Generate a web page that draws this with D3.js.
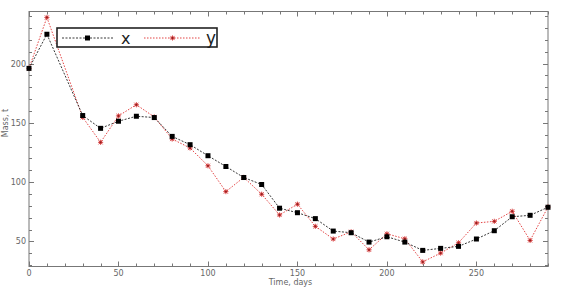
<!DOCTYPE html>
<html>
<head>
<meta charset="utf-8">
<script src="https://cdn.jsdelivr.net/npm/d3@7"></script>
<style>
  body { margin: 0; background: #fff; }
  svg { display: block; font-family: "DejaVu Sans", sans-serif; }
</style>
</head>
<body>
<script>
var days = [0, 10, 30, 40, 50, 60, 70, 80, 90, 100, 110, 120, 130, 140, 150, 160, 170, 180, 190, 200, 210, 220, 230, 240, 250, 260, 270, 280, 290];
var xSeries = [196, 224.8, 156.2, 145.4, 151.4, 155.6, 154.5, 138.6, 131.6, 122.3, 113.2, 103.9, 98, 78, 74.2, 69.2, 58.7, 57.3, 49.4, 53.9, 49.4, 42.4, 44.1, 45.8, 52, 59, 70.8, 72, 78.8];
var ySeries = [196, 239, 154.7, 133.6, 155.9, 165.3, 155, 136.4, 128.8, 113.8, 92, 104, 89.8, 72.3, 81.4, 62.7, 52, 58.1, 42.9, 56.4, 52.2, 32.7, 40.1, 48.8, 65.5, 66.9, 75.4, 50.8, 79];
var xTicks = [0, 50, 100, 150, 200, 250];
var yTicks = [50, 100, 150, 200];

var W = 567, H = 287;
var pLeft = 29, pRight = 548, pTop = 11.5, pBottom = 266.5;

var svg = d3.select('body').append('svg').attr('width', W).attr('height', H);

var x = d3.scaleLinear().domain([0, 290]).range([pLeft, pRight]);
var y = d3.scaleLinear().domain([28.8, 244]).range([pBottom, pTop]);

var axisColor = '#777';
var labelColor = '#666';

// frame
svg.append('rect')
  .attr('x', pLeft).attr('y', pTop)
  .attr('width', pRight - pLeft).attr('height', pBottom - pTop)
  .attr('fill', 'none').attr('stroke', axisColor).attr('stroke-width', 1);

// ticks: minor every 10, major every 50, all pointing inward
var g = svg.append('g').attr('stroke', axisColor).attr('stroke-width', 1);
d3.range(0, 291, 10).forEach(function (v) {
  var len = v % 50 === 0 ? 5 : 3;
  var px = Math.round(x(v)) + 0.5;
  g.append('line').attr('x1', px).attr('x2', px).attr('y1', pBottom).attr('y2', pBottom - len);
  g.append('line').attr('x1', px).attr('x2', px).attr('y1', pTop).attr('y2', pTop + len);
});
d3.range(30, 244, 10).forEach(function (v) {
  var len = v % 50 === 0 ? 5 : 3;
  var py = Math.round(y(v)) + 0.5;
  g.append('line').attr('y1', py).attr('y2', py).attr('x1', pLeft).attr('x2', pLeft + len);
  g.append('line').attr('y1', py).attr('y2', py).attr('x1', pRight).attr('x2', pRight - len);
});

// tick labels
svg.selectAll('.xl').data(xTicks).enter().append('text')
  .attr('x', function (d) { return x(d); })
  .attr('y', pBottom + 9.5)
  .attr('text-anchor', 'middle')
  .attr('font-size', 8).attr('fill', labelColor)
  .text(function (d) { return d; });

svg.selectAll('.yl').data(yTicks).enter().append('text')
  .attr('x', pLeft - 3)
  .attr('y', function (d) { return y(d) + 3; })
  .attr('text-anchor', 'end')
  .attr('font-size', 8).attr('fill', labelColor)
  .text(function (d) { return d; });

svg.append('text')
  .attr('x', (pLeft + pRight) / 2 + 2).attr('y', 285)
  .attr('text-anchor', 'middle')
  .attr('font-size', 8).attr('fill', labelColor)
  .text('Time, days');

svg.append('text')
  .attr('transform', 'translate(8,123) rotate(-90)')
  .attr('text-anchor', 'middle')
  .attr('font-size', 8).attr('fill', labelColor)
  .text('Mass, t');

// lines
var line = d3.line().x(function (d) { return x(d[0]); }).y(function (d) { return y(d[1]); });
var xData = days.map(function (d, i) { return [d, xSeries[i]]; });
var yData = days.map(function (d, i) { return [d, ySeries[i]]; });

svg.append('path').datum(yData).attr('d', line)
  .attr('fill', 'none').attr('stroke', '#e03030').attr('stroke-width', 0.9)
  .attr('stroke-dasharray', '1.5,1.5');
svg.append('path').datum(xData).attr('d', line)
  .attr('fill', 'none').attr('stroke', '#222').attr('stroke-width', 0.9)
  .attr('stroke-dasharray', '2,1.5');

function star(sel, cx, cy) {
  var r = 2.6;
  var gg = sel.append('g').attr('transform', 'translate(' + cx + ',' + cy + ')');
  gg.append('circle').attr('r', 1.6).attr('fill', '#e88');
  [[-r, 0, r, 0], [0, -r, 0, r], [-r * 0.8, -r * 0.8, r * 0.8, r * 0.8], [-r * 0.8, r * 0.8, r * 0.8, -r * 0.8]].forEach(function (l) {
    gg.append('line').attr('x1', l[0]).attr('y1', l[1]).attr('x2', l[2]).attr('y2', l[3])
      .attr('stroke', '#d02828').attr('stroke-width', 0.8);
  });
  gg.append('circle').attr('r', 0.9).attr('fill', '#822');
}

// markers
yData.forEach(function (d) { star(svg, x(d[0]), y(d[1])); });
svg.selectAll('.sq').data(xData).enter().append('rect')
  .attr('x', function (d) { return x(d[0]) - 2.5; })
  .attr('y', function (d) { return y(d[1]) - 2.5; })
  .attr('width', 5).attr('height', 5).attr('fill', '#000');

// legend
var lg = svg.append('g');
lg.append('rect').attr('x', 57).attr('y', 28).attr('width', 160).attr('height', 19)
  .attr('fill', '#fff').attr('stroke', '#222').attr('stroke-width', 1.6);
lg.append('line').attr('x1', 62).attr('x2', 114).attr('y1', 38).attr('y2', 38)
  .attr('stroke', '#222').attr('stroke-width', 0.9).attr('stroke-dasharray', '2,1.5');
lg.append('rect').attr('x', 85).attr('y', 35.5).attr('width', 5).attr('height', 5).attr('fill', '#000');
lg.append('text').attr('x', 121).attr('y', 44).attr('font-size', 16).attr('fill', '#222').text('x');
lg.append('line').attr('x1', 144).attr('x2', 201).attr('y1', 38).attr('y2', 38)
  .attr('stroke', '#e03030').attr('stroke-width', 0.9).attr('stroke-dasharray', '1.5,1.5');
star(lg, 172.5, 38);
lg.append('text').attr('x', 206).attr('y', 44).attr('font-size', 17).attr('fill', '#222').text('y');
</script>
</body>
</html>
